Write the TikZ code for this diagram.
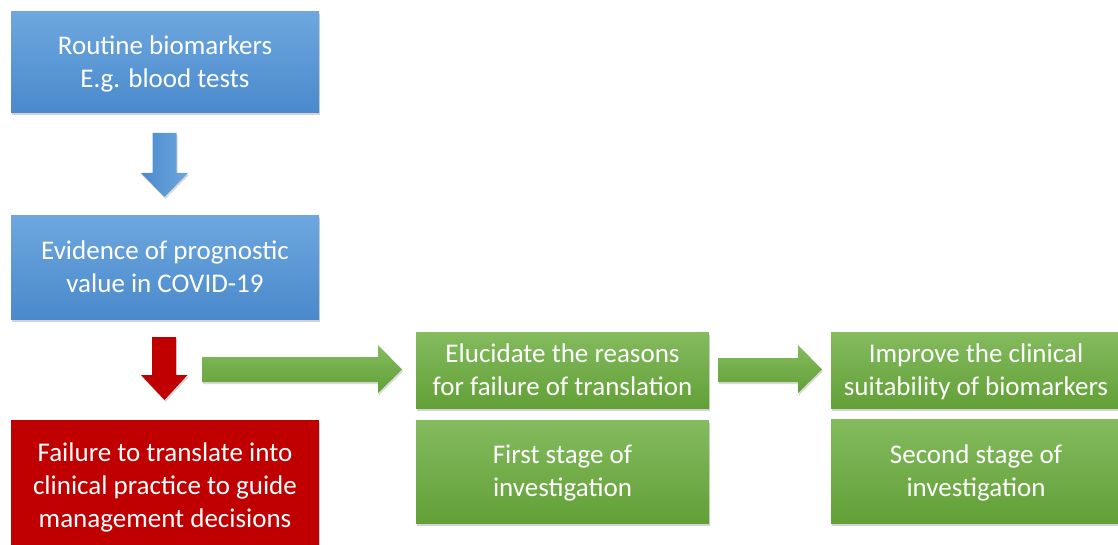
\documentclass[tikz,border=0pt]{standalone}
\usepackage{fontspec}
\setmainfont{Carlito}
\usetikzlibrary{shadows,shadings}
\definecolor{bluetop}{HTML}{6DA7DE}
\definecolor{bluebot}{HTML}{4A89CC}
\definecolor{greentop}{HTML}{84BB5E}
\definecolor{greenbot}{HTML}{62A037}
\definecolor{darkred}{HTML}{C00000}
\newcommand{\boxtext}[1]{\raisebox{-2pt}[\height][\depth]{\begin{tabular}{@{}c@{}}#1\end{tabular}}}
\tikzset{
  box/.style={rectangle, inner sep=0pt, text=white,
    font=\fontsize{27}{33}\selectfont,
    drop shadow={opacity=0.35, shadow xshift=1pt, shadow yshift=-2.5pt}},
  bluebox/.style={box, top color=bluetop, bottom color=bluebot, minimum width=308pt},
  redbox/.style={box, fill=darkred, minimum width=308pt},
  greenbox/.style={box, top color=greentop, bottom color=greenbot},
  barrow/.style={left color=bluebot, right color=bluetop,
    drop shadow={opacity=0.3, shadow xshift=1pt, shadow yshift=-2pt}},
  rarrow/.style={fill=darkred,
    drop shadow={opacity=0.3, shadow xshift=1pt, shadow yshift=-2pt}},
  garrow/.style={top color=greentop, bottom color=greenbot,
    drop shadow={opacity=0.3, shadow xshift=1pt, shadow yshift=-2pt}},
}
\begin{document}
\begin{tikzpicture}[x=1pt,y=-1pt]
\useasboundingbox (0,0) rectangle (1118,545);
\clip (0,0) rectangle (1118,545);
% boxes
\node[bluebox, minimum height=101pt] (b1) at (165,62.5) {\boxtext{Routine biomarkers\\E.g. blood tests}};
\node[bluebox, minimum height=103pt] (b2) at (165,267.5) {\boxtext{Evidence of prognostic\\value in COVID-19}};
\node[redbox, minimum height=132pt] (r1) at (165,486) {\boxtext{Failure to translate into\\clinical practice to guide\\management decisions}};
\node[greenbox, minimum width=293pt, minimum height=76pt] (g1) at (562.5,370) {\boxtext{Elucidate the reasons\\for failure of translation}};
\node[greenbox, minimum width=293pt, minimum height=103pt] (g2) at (562.5,471.5) {\boxtext{First stage of\\investigation}};
\node[greenbox, minimum width=290pt, minimum height=76pt] (g3) at (976,370) {\boxtext{Improve the clinical\\suitability of biomarkers}};
\node[greenbox, minimum width=290pt, minimum height=104pt] (g4) at (976,471) {\boxtext{Second stage of\\investigation}};
% block arrows
\coordinate (a1) at (164.5,133);
\draw[barrow, draw=none] (152.5,133) -- (176.5,133) -- (176.5,173) -- (188,173) -- (164.5,197) -- (141,173) -- (152.5,173) -- cycle;
\coordinate (a2) at (164.5,337);
\draw[rarrow, draw=none] (152,337) -- (176,337) -- (176,375) -- (187.5,375) -- (164.5,400) -- (141,375) -- (152,375) -- cycle;
\coordinate (a3) at (202,369.5);
\draw[garrow, draw=none] (202,357) -- (378,357) -- (378,345) -- (402,369.5) -- (378,393) -- (378,382) -- (202,382) -- cycle;
\coordinate (a4) at (718,370);
\draw[garrow, draw=none] (718,358) -- (798,358) -- (798,345) -- (822,369.5) -- (798,393) -- (798,382) -- (718,382) -- cycle;
\end{tikzpicture}
\end{document}
